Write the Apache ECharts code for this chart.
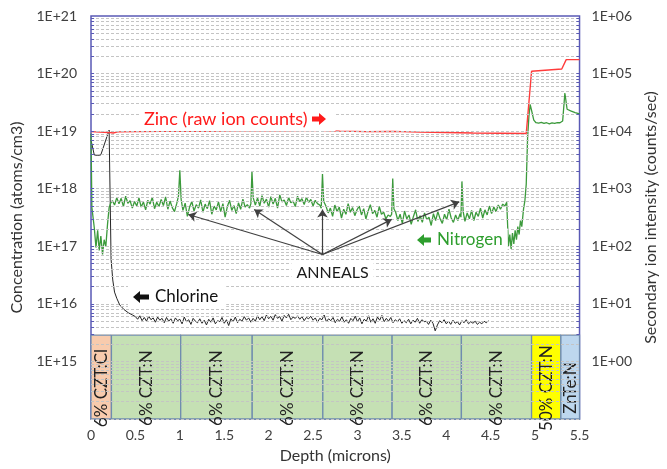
<!DOCTYPE html>
<html>
<head>
<meta charset="utf-8">
<title>SIMS depth profile</title>
<script src="https://cdn.jsdelivr.net/npm/echarts@6/dist/echarts.min.js"></script>
<style>
  html, body { margin: 0; padding: 0; background: #fff; }
  #chart { width: 667px; height: 469px; }
</style>
</head>
<body>
<div id="chart"></div>
<script>
// depth (microns) vs concentration (atoms/cm3) -> left axis
const nitrogen = [
  [0, 9.1e18], [0.01, 4.7e17], [0.037, 2.1e17], [0.056, 9.5e16], [0.075, 1.9e17], [0.092, 8.5e16],
  [0.111, 1.5e17], [0.13, 7.2e16], [0.148, 1.3e17], [0.167, 1.0e17], [0.186, 2.4e17], [0.204, 4.7e17],
  [0.223, 5.7e17], [0.242, 6.2e17],
  [0.265, 5.2e17], [0.29, 7.0e17], [0.315, 5.5e17], [0.34, 6.8e17], [0.365, 4.9e17], [0.39, 7.4e17],
  [0.415, 5.6e17], [0.44, 6.2e17], [0.465, 4.6e17], [0.49, 6.0e17], [0.515, 5.0e17], [0.54, 6.9e17],
  [0.565, 4.8e17], [0.59, 5.9e17], [0.615, 4.3e17], [0.64, 6.3e17], [0.665, 5.4e17], [0.69, 7.1e17],
  [0.715, 4.5e17], [0.74, 5.8e17], [0.765, 4.9e17], [0.79, 6.5e17], [0.815, 5.1e17], [0.84, 7.2e17],
  [0.865, 4.4e17], [0.89, 6.1e17], [0.915, 4.7e17], [0.94, 4.0e17], [0.965, 5.5e17], [0.985, 7.5e17],
  [1.0, 2.1e18], [1.015, 6.5e17],
  [1.035, 4.2e17], [1.06, 5.6e17], [1.085, 3.3e17], [1.11, 4.8e17], [1.135, 6.0e17], [1.16, 4.1e17],
  [1.185, 5.3e17], [1.21, 4.6e17], [1.235, 6.4e17], [1.26, 3.9e17], [1.285, 5.4e17], [1.31, 4.5e17],
  [1.335, 6.2e17], [1.36, 3.6e17], [1.385, 5.0e17], [1.41, 4.3e17], [1.435, 5.9e17], [1.46, 4.0e17],
  [1.485, 5.5e17], [1.51, 3.2e17], [1.535, 4.9e17], [1.56, 6.3e17], [1.585, 4.2e17], [1.61, 5.1e17],
  [1.635, 3.7e17], [1.66, 5.7e17], [1.685, 4.4e17], [1.71, 6.6e17], [1.735, 4.8e17], [1.76, 5.3e17],
  [1.785, 4.6e17], [1.8, 5.5e17], [1.812, 2.0e18], [1.826, 7.0e17],
  [1.85, 5.2e17], [1.875, 6.9e17], [1.9, 5.0e17], [1.925, 7.6e17], [1.95, 5.6e17], [1.975, 6.6e17],
  [2.0, 4.8e17], [2.025, 7.3e17], [2.05, 5.4e17], [2.075, 6.8e17], [2.1, 4.6e17], [2.125, 7.8e17],
  [2.15, 5.9e17], [2.175, 6.4e17], [2.2, 5.1e17], [2.225, 7.0e17], [2.25, 5.7e17], [2.275, 6.1e17],
  [2.3, 4.9e17], [2.325, 7.4e17], [2.35, 6.0e17], [2.375, 6.7e17], [2.4, 5.3e17], [2.425, 7.1e17],
  [2.45, 5.8e17], [2.475, 6.5e17], [2.5, 5.0e17], [2.525, 6.3e17], [2.55, 5.5e17], [2.575, 5.2e17],
  [2.592, 4.6e17], [2.606, 1.8e18], [2.62, 6.0e17],
  [2.645, 5.0e17], [2.67, 3.8e17], [2.695, 4.6e17], [2.72, 3.3e17], [2.745, 5.2e17], [2.77, 4.0e17],
  [2.795, 4.8e17], [2.82, 3.1e17], [2.845, 4.4e17], [2.87, 3.6e17], [2.895, 5.5e17], [2.92, 3.9e17],
  [2.945, 4.7e17], [2.97, 3.4e17], [2.995, 4.3e17], [3.02, 5.0e17], [3.045, 3.5e17], [3.07, 4.5e17],
  [3.095, 3.0e17], [3.12, 4.1e17], [3.145, 5.3e17], [3.17, 3.7e17], [3.195, 4.2e17], [3.22, 3.2e17],
  [3.245, 4.9e17], [3.27, 3.6e17], [3.295, 3.9e17], [3.32, 3.0e17], [3.345, 3.5e17], [3.37, 3.3e17],
  [3.385, 3.6e17], [3.397, 1.5e18], [3.41, 4.5e17],
  [3.43, 3.9e17], [3.455, 2.8e17], [3.48, 3.6e17], [3.505, 2.5e17], [3.53, 4.1e17], [3.555, 3.0e17],
  [3.58, 3.5e17], [3.605, 2.4e17], [3.63, 3.3e17], [3.655, 4.3e17], [3.68, 2.7e17], [3.705, 3.4e17],
  [3.73, 2.6e17], [3.755, 3.8e17], [3.78, 2.9e17], [3.805, 3.2e17], [3.83, 2.3e17], [3.855, 3.7e17],
  [3.88, 2.8e17], [3.905, 4.0e17], [3.93, 3.0e17], [3.955, 2.5e17], [3.98, 3.6e17], [4.005, 2.9e17],
  [4.03, 4.4e17], [4.055, 3.1e17], [4.08, 2.6e17], [4.105, 3.5e17], [4.13, 2.8e17], [4.155, 3.7e17],
  [4.165, 3.2e17], [4.176, 1.34e18], [4.19, 4.0e17],
  [4.21, 2.7e17], [4.235, 3.8e17], [4.26, 3.0e17], [4.285, 4.2e17], [4.31, 2.8e17], [4.335, 3.9e17],
  [4.36, 3.3e17], [4.385, 4.6e17], [4.41, 3.1e17], [4.435, 4.3e17], [4.46, 3.5e17], [4.485, 5.0e17],
  [4.51, 3.7e17], [4.535, 4.8e17], [4.56, 4.0e17], [4.585, 5.2e17], [4.61, 4.4e17], [4.635, 5.4e17],
  [4.66, 5.0e17], [4.68, 5.8e17],
  [4.7, 1.0e17], [4.715, 1.6e17], [4.73, 9.0e16], [4.745, 1.7e17], [4.76, 1.1e17], [4.775, 1.9e17],
  [4.79, 1.3e17], [4.805, 2.2e17], [4.82, 1.6e17], [4.835, 2.8e17], [4.85, 2.2e17], [4.87, 4.5e17],
  [4.885, 6.2e17], [4.9, 1.2e18], [4.915, 7.5e18], [4.93, 1.8e19], [4.944, 2.9e19], [4.96, 2.3e19],
  [4.985, 1.55e19], [5.01, 1.4e19], [5.04, 1.38e19], [5.07, 1.42e19], [5.1, 1.36e19], [5.13, 1.4e19],
  [5.16, 1.34e19], [5.19, 1.39e19], [5.22, 1.37e19], [5.25, 1.41e19], [5.28, 1.4e19], [5.31, 1.5e19],
  [5.335, 4.6e19], [5.36, 2.4e19], [5.4, 2.25e19], [5.45, 2.1e19], [5.5, 2.0e19]
];

const chlorine = [
  [0, 7.0e18], [0.037, 3.85e18], [0.075, 3.8e18], [0.11, 3.85e18], [0.204, 1.04e19], [0.226, 6.0e16],
  [0.245, 2.6e16], [0.265, 1.6e16], [0.29, 1.25e16], [0.323, 9.6e15], [0.37, 8.0e15], [0.42, 7.0e15],
  [0.468, 6.4e15],
  [0.5, 6.0e15], [0.525, 5.4e15], [0.55, 6.2e15], [0.575, 5.1e15], [0.6, 5.8e15], [0.625, 5.0e15],
  [0.65, 6.1e15], [0.675, 5.3e15], [0.7, 5.7e15], [0.725, 4.8e15], [0.75, 5.9e15], [0.775, 5.2e15],
  [0.8, 5.6e15], [0.825, 4.7e15], [0.85, 5.8e15], [0.875, 5.0e15], [0.9, 5.5e15], [0.925, 4.6e15],
  [0.95, 5.7e15], [0.975, 5.1e15], [1.0, 5.4e15], [1.025, 4.5e15], [1.05, 5.9e15], [1.075, 4.9e15],
  [1.1, 5.3e15], [1.125, 4.4e15], [1.15, 5.6e15], [1.175, 5.0e15], [1.2, 4.7e15], [1.225, 5.5e15],
  [1.25, 4.6e15], [1.275, 5.2e15], [1.3, 4.3e15], [1.325, 5.4e15], [1.35, 4.8e15], [1.375, 5.7e15],
  [1.4, 4.5e15], [1.425, 5.1e15], [1.45, 4.9e15], [1.475, 5.8e15], [1.5, 4.6e15], [1.525, 5.3e15],
  [1.55, 4.2e15], [1.575, 5.5e15], [1.6, 4.9e15], [1.625, 5.9e15], [1.65, 4.7e15], [1.675, 5.4e15],
  [1.7, 5.0e15], [1.725, 6.0e15], [1.75, 5.2e15], [1.775, 5.7e15], [1.8, 4.8e15], [1.825, 5.6e15],
  [1.85, 5.0e15], [1.875, 6.2e15], [1.9, 5.3e15], [1.925, 6.0e15], [1.95, 5.1e15], [1.975, 6.4e15],
  [2.0, 5.5e15], [2.025, 6.1e15], [2.05, 5.2e15], [2.075, 6.5e15], [2.1, 5.6e15], [2.125, 6.0e15],
  [2.15, 5.0e15], [2.175, 6.3e15], [2.2, 5.7e15], [2.225, 6.6e15], [2.25, 5.3e15], [2.275, 5.9e15],
  [2.3, 5.6e15], [2.325, 6.2e15], [2.35, 5.4e15], [2.375, 6.0e15], [2.4, 5.1e15], [2.425, 5.8e15],
  [2.45, 5.5e15], [2.475, 6.1e15], [2.5, 5.2e15], [2.525, 5.7e15], [2.55, 4.8e15], [2.575, 5.6e15],
  [2.6, 5.3e15], [2.625, 6.4e15], [2.65, 4.9e15], [2.675, 5.5e15], [2.7, 5.1e15], [2.725, 5.8e15],
  [2.75, 4.7e15], [2.775, 5.4e15], [2.8, 5.0e15], [2.825, 6.0e15], [2.85, 4.8e15], [2.875, 5.3e15],
  [2.9, 4.6e15], [2.925, 5.6e15], [2.95, 5.1e15], [2.975, 6.1e15], [3.0, 4.9e15], [3.025, 5.7e15],
  [3.05, 4.5e15], [3.075, 5.4e15], [3.1, 5.0e15], [3.125, 6.2e15], [3.15, 4.8e15], [3.175, 5.5e15],
  [3.2, 4.6e15], [3.225, 5.9e15], [3.25, 5.2e15], [3.275, 6.3e15], [3.3, 4.9e15], [3.325, 5.6e15],
  [3.35, 5.0e15], [3.375, 5.8e15], [3.4, 4.7e15], [3.425, 5.3e15], [3.45, 4.9e15], [3.475, 5.5e15],
  [3.5, 4.6e15], [3.525, 5.1e15], [3.55, 4.7e15], [3.575, 5.4e15], [3.6, 4.5e15], [3.625, 5.2e15],
  [3.65, 4.8e15], [3.675, 5.6e15], [3.7, 4.6e15], [3.725, 5.3e15], [3.75, 4.9e15], [3.775, 5.0e15],
  [3.8, 4.4e15], [3.825, 5.2e15], [3.85, 4.6e15], [3.875, 3.4e15], [3.9, 4.3e15], [3.925, 5.1e15],
  [3.95, 4.7e15], [3.975, 5.3e15], [4.0, 4.5e15], [4.025, 5.0e15], [4.05, 4.4e15], [4.075, 5.2e15],
  [4.1, 4.6e15], [4.125, 4.9e15], [4.15, 4.3e15], [4.175, 5.1e15], [4.2, 4.7e15], [4.225, 5.3e15],
  [4.25, 4.5e15], [4.275, 4.9e15], [4.3, 4.6e15], [4.325, 5.0e15], [4.35, 4.4e15], [4.375, 4.8e15],
  [4.4, 4.5e15], [4.425, 5.0e15], [4.45, 4.7e15], [4.475, 5.1e15]
];

// depth (microns) vs raw counts/sec -> right axis
const zinc = [
  [0, 9.8e3], [0.1, 9.6e3], [0.2, 9.5e3], [0.22, 8.8e3], [0.25, 9.3e3], [0.3, 9.7e3], [0.5, 9.8e3],
  [0.8, 9.9e3], [1.0, 1.0e4], [1.3, 9.9e3], [1.6, 1.01e4], [1.9, 1.02e4], [2.2, 1.01e4], [2.5, 1.03e4],
  [2.56, 1.02e4], [2.58, 1.13e4], [2.6, 1.02e4], [2.8, 1.0e4], [3.1, 9.8e3], [3.4, 9.9e3], [3.7, 9.6e3],
  [4.0, 9.5e3], [4.3, 9.3e3], [4.6, 9.2e3], [4.9, 9.1e3], [4.91, 9.3e3], [4.96, 1.1e5], [5.3, 1.2e5],
  [5.35, 1.75e5], [5.5, 1.75e5]
];

// layer stack along the depth axis
const layerNames = ['6% CZT:Cl', '6% CZT:N', '6% CZT:N', '6% CZT:N', '6% CZT:N', '6% CZT:N', '6% CZT:N', '50% CZT:N', 'ZnTe:N'];
const layerEdges = [0, 0.23, 1.01, 1.815, 2.61, 3.39, 4.17, 4.96, 5.29, 5.5];

// anneal arrows: common tail and heads, in [depth, concentration]
const annealTail = [2.606, 7.2e16];
const annealHeads = [[1.095, 3.57e17], [1.837, 4.36e17], [2.606, 4.36e17], [3.385, 2.93e17], [4.146, 5.91e17]];

const layerFill = ['#F8CBAD', '#C5E0B4', '#C5E0B4', '#C5E0B4', '#C5E0B4', '#C5E0B4', '#C5E0B4', '#FFFF00', '#BDD7EE'];
const LAYER_TOP = 2.86e15;
const FONT = 'Lato, "Open Sans", sans-serif';
const FRAME = '#5A5AB5';

const chart = echarts.init(document.getElementById('chart'));

// dotted gridlines at 1..9 x 10^n
const gridValues = [];
for (let n = 14; n <= 20; n++) {
  for (let k = 1; k <= 9; k++) gridValues.push(k * Math.pow(10, n));
}
const tickValues = gridValues.filter(v => v > LAYER_TOP);

const expLabel = (v, hide) => {
  const e = Math.round(Math.log10(v));
  if (e === hide) return '';
  return '1E+' + String(e).padStart(2, '0');
};

const layerAreas = layerNames.map((name, i) => [
  {
    name: name,
    xAxis: layerEdges[i],
    yAxis: LAYER_TOP,
    itemStyle: { color: layerFill[i], borderColor: '#6F8CAF', borderWidth: 1.3 }
  },
  { xAxis: layerEdges[i + 1], yAxis: 1e14 }
]);

// small bold block arrows drawn next to the series labels
const blockArrow = (tipX, y, dir, len, color) => {
  const head = 7 * dir, half = 6, shaft = 2.5;
  const back = tipX - head;
  const end = tipX - len * dir;
  return {
    type: 'polygon', z: 101, silent: true,
    shape: { points: [[tipX, y], [back, y - half], [back, y - shaft], [end, y - shaft], [end, y + shaft], [back, y + shaft], [back, y + half]] },
    style: { fill: color }
  };
};

const option = {
  animation: false,
  backgroundColor: '#fff',
  grid: { left: 91, right: 82, top: 16, bottom: 46, show: true, borderColor: FRAME, borderWidth: 1.5 },
  xAxis: {
    type: 'value',
    min: 0,
    max: 5.5,
    interval: 0.5,
    name: 'Depth (microns)',
    nameLocation: 'middle',
    nameGap: 29,
    nameTextStyle: { fontFamily: FONT, fontSize: 16, color: '#333' },
    axisLine: { show: false },
    axisTick: { show: false },
    splitLine: { show: false },
    axisLabel: { fontFamily: FONT, fontSize: 14, color: '#404040', margin: 9 }
  },
  yAxis: [
    {
      type: 'log',
      logBase: 10,
      min: 1e14,
      max: 1e21,
      splitNumber: 7,
      name: 'Concentration (atoms/cm3)',
      nameLocation: 'middle',
      nameGap: 66,
      nameTextStyle: { fontFamily: FONT, fontSize: 16, color: '#333' },
      axisLine: { show: false },
      axisTick: { show: false },
      splitLine: { show: false },
      axisLabel: { fontFamily: FONT, fontSize: 14, color: '#404040', margin: 14, formatter: v => expLabel(v, 14) }
    },
    {
      type: 'log',
      logBase: 10,
      min: 0.1,
      max: 1e6,
      splitNumber: 7,
      position: 'right',
      name: 'Secondary ion intensity (counts/sec)',
      nameLocation: 'middle',
      nameGap: 63,
      nameTextStyle: { fontFamily: FONT, fontSize: 16, color: '#333' },
      axisLine: { show: false },
      axisTick: { show: false },
      splitLine: { show: false },
      axisLabel: { fontFamily: FONT, fontSize: 14, color: '#404040', margin: 12, formatter: v => expLabel(v, -1) }
    }
  ],
  series: [
    {
      name: 'gridlines',
      type: 'line',
      data: [],
      z: 1,
      silent: true,
      markLine: {
        silent: true,
        symbol: ['none', 'none'],
        label: { show: false },
        lineStyle: { color: '#C4C4C4', type: [3, 2], width: 1 },
        data: gridValues.map(v => ({ yAxis: v }))
      }
    },
    {
      name: 'layers',
      type: 'line',
      data: [],
      z: 2,
      silent: true,
      markArea: {
        silent: true,
        label: { show: true, position: 'inside', rotate: 90, offset: [-11, 0], fontFamily: FONT, fontSize: 17, color: '#222' },
        data: layerAreas
      }
    },
    {
      name: 'axis ticks',
      type: 'line',
      data: [],
      z: 2,
      silent: true,
      markLine: {
        silent: true,
        symbol: ['none', 'none'],
        label: { show: false },
        lineStyle: { color: FRAME, type: 'solid', width: 1 },
        data: tickValues.map(v => [{ coord: [0, v] }, { coord: [0.035, v] }])
          .concat(tickValues.map(v => [{ coord: [5.465, v] }, { coord: [5.5, v] }]))
      }
    },
    {
      name: 'Chlorine',
      type: 'line',
      data: chlorine,
      showSymbol: false,
      z: 3,
      lineStyle: { color: '#262626', width: 1 }
    },
    {
      name: 'Nitrogen',
      type: 'line',
      data: nitrogen,
      showSymbol: false,
      z: 3,
      lineStyle: { color: '#3C9A3C', width: 1.3 }
    },
    {
      name: 'Zinc',
      type: 'line',
      yAxisIndex: 1,
      data: zinc,
      showSymbol: false,
      z: 3,
      lineStyle: { color: '#FF3B3B', width: 1.4 }
    },
    {
      name: 'anneals',
      type: 'line',
      data: [],
      z: 4,
      silent: true,
      markLine: {
        silent: true,
        symbol: ['none', 'arrow'],
        symbolSize: 8,
        label: { show: false },
        lineStyle: { color: '#404040', type: 'solid', width: 1.2 },
        data: annealHeads.map(h => [{ coord: annealTail }, { coord: h }])
      }
    }
  ],
  graphic: [
    {
      type: 'text', x: 139, y: 119, z: 100,
      style: {
        text: 'Zinc (raw ion counts)', fontFamily: FONT, fontSize: 18, fill: '#FF1A1A',
        verticalAlign: 'middle', backgroundColor: '#fff', padding: [3, 28, 3, 5]
      }
    },
    blockArrow(326, 119, 1, 14, '#FF1A1A'),
    {
      type: 'text', x: 410, y: 240, z: 100,
      style: {
        text: 'Nitrogen', fontFamily: FONT, fontSize: 17, fill: '#2E9E2E',
        verticalAlign: 'middle', backgroundColor: '#fff', padding: [3, 5, 3, 27]
      }
    },
    blockArrow(417, 240, -1, 14, '#2E9E2E'),
    {
      type: 'text', x: 128, y: 297, z: 100,
      style: {
        text: 'Chlorine', fontFamily: FONT, fontSize: 17, fill: '#111',
        verticalAlign: 'middle', backgroundColor: '#fff', padding: [3, 8, 3, 27]
      }
    },
    blockArrow(133, 297, -1, 16, '#111'),
    {
      type: 'text', x: 332.5, y: 273, z: 100,
      style: {
        text: 'ANNEALS', fontFamily: FONT, fontSize: 16, fill: '#1a1a1a',
        align: 'center', verticalAlign: 'middle', backgroundColor: '#fff', padding: [3, 5]
      }
    }
  ]
};

chart.setOption(option);
</script>
</body>
</html>
